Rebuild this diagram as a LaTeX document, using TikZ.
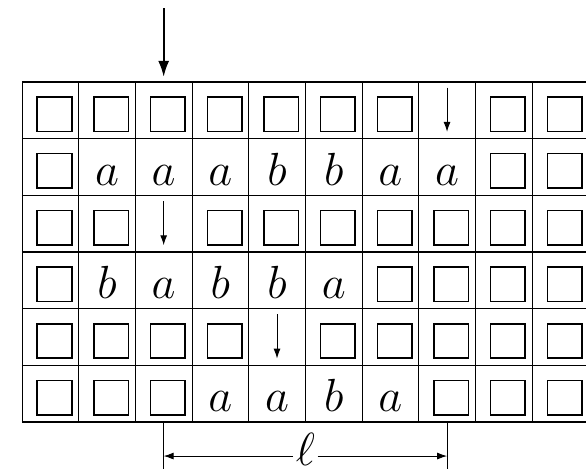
\documentclass[tikz,border=0pt]{standalone}
\usetikzlibrary{arrows.meta}
\begin{document}
\begin{tikzpicture}[
    blank/.style={draw,line width=0.8pt,minimum size=0.61cm,inner sep=0pt,xshift=0.075cm,yshift=-0.07cm},
    sym/.style={font=\huge,scale=1.125,inner sep=0pt,anchor=base},
    rowline/.style={line width=0.7pt},
    colline/.style={line width=0.4pt},
    headarr/.style={-{Latex[length=8pt,width=5.5pt]},line width=1pt},
    movearr/.style={-{Latex[length=5pt,width=3.5pt]},line width=0.5pt},
    dim/.style={-{Latex[length=5pt,width=3.5pt]},line width=0.4pt}
]
\useasboundingbox (-0.388,-0.812) rectangle (9.952,7.447);
% tape rows and cells
\foreach \y in {0,...,6} \draw[rowline] (0,\y) -- (10,\y);
\foreach \x in {0,...,10} \draw[colline] (\x,0) -- (\x,6);
% blank cells
\foreach \y/\cols in {6/{1,2,3,4,5,6,7,9,10},5/{1,9,10},4/{1,2,4,5,6,7,8,9,10},
    3/{1,7,8,9,10},2/{1,2,3,4,6,7,8,9,10},1/{1,2,3,8,9,10}}
  \foreach \x in \cols \node[blank] (s\x\y) at (\x-0.5,\y-0.5) {};
% written symbols
\foreach \x/\y/\t in {2/5/a,3/5/a,4/5/a,5/5/b,6/5/b,7/5/a,8/5/a,
    2/3/b,3/3/a,4/3/b,5/3/b,6/3/a,4/1/a,5/1/a,6/1/b,7/1/a}
  \node[sym] (c\x\y) at (\x-0.5,\y-0.82) {$\t$};
% head moves
\foreach \x/\y in {8/6,3/4,5/2} {
  \coordinate (t\x\y) at (\x-0.5,\y-0.1);
  \coordinate (h\x\y) at (\x-0.5,\y-0.88);
  \draw[movearr] (t\x\y) -- (h\x\y);
}
\coordinate (feed) at (2.5,7.3);
\coordinate (entry) at (2.5,6.09);
\draw[headarr] (feed) -- (entry);
% length of the word
\coordinate (lfttop) at (2.5,0);
\coordinate (lftbot) at (2.5,-0.9);
\coordinate (rgttop) at (7.5,0);
\coordinate (rgtbot) at (7.5,-0.9);
\draw[colline] (lfttop) -- (lftbot);
\draw[colline] (rgttop) -- (rgtbot);
\coordinate (lft) at (2.5,-0.6);
\coordinate (rgt) at (7.5,-0.6);
\node[sym,anchor=center,inner xsep=1pt] (ell) at (5,-0.49) {$\ell$};
\draw[dim] (ell.west |- lft) -- (lft);
\draw[dim] (ell.east |- rgt) -- (rgt);
\end{tikzpicture}
\end{document}
